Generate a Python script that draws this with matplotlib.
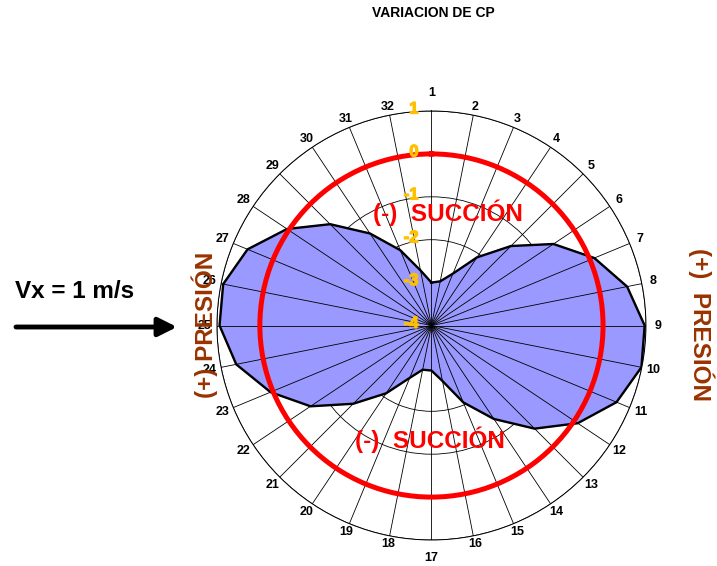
import numpy as np
import matplotlib.pyplot as plt
import matplotlib.patheffects as pe
from matplotlib import transforms

plt.rcParams['font.family'] = ['Liberation Sans', 'DejaVu Sans']

# Cp per point around the cylinder
points = [str(i) for i in range(1, 33)]
cp = [-3.0, -2.95, -2.69, -2.09, -1.38, -0.58, 0.11, 0.65, 0.97, 0.99,
      0.67, 0.10, -0.60, -1.38, -2.06, -2.68, -2.95, -2.95, -2.68, -2.10,
      -1.42, -0.61, 0.06, 0.64, 0.94, 0.95, 0.64, 0.05, -0.66, -1.42,
      -2.10, -2.69]
cp_zero = 0.0
r_ticks = [-4, -3, -2, -1, 0, 1]

fig = plt.figure(figsize=(7.17, 5.66), dpi=100)
ax = fig.add_axes([0.3026, 0.0459, 0.5983, 0.7580], projection='polar')
ax.set_theta_zero_location('N')
ax.set_theta_direction(-1)

theta = np.linspace(0, 2 * np.pi, len(points), endpoint=False)
tc = np.append(theta, theta[0])

ax.fill(tc, cp + cp[:1], color='#9999FF', zorder=1)
ax.plot(tc, cp + cp[:1], color='black', lw=1.7, zorder=2)
# red reference circle at Cp = 0
ax.axhline(cp_zero, color='red', lw=3.6, zorder=5)

ax.set_ylim(-4, 1)
ax.set_yticks(r_ticks)
ax.set_yticklabels([])
ax.set_xticks(theta)
ax.set_xticklabels([])
ax.xaxis.grid(True, color='black', lw=0.6)
ax.yaxis.grid(True, color='black', lw=0.6)
ax.xaxis.set_zorder(3)
ax.yaxis.set_zorder(0.5)
ax.spines['polar'].set_color('black')
ax.spines['polar'].set_linewidth(0.7)
ax.patch.set_facecolor('white')

# point labels just outside the outer ring
for t, name in zip(theta, points):
    d = 18 if abs(np.cos(t)) > 0.99 else 8 + 4 * abs(np.sin(t))
    tr = transforms.offset_copy(ax.transData, fig=fig, x=d * np.sin(t),
                                y=d * np.cos(t), units='dots')
    ax.text(t, r_ticks[-1], name, transform=tr, ha='center', va='center',
            fontsize=9, fontweight='bold', clip_on=False)

lab_tr = transforms.offset_copy(ax.transData, fig=fig, x=-13, y=2, units='dots')
for v in r_ticks:
    ax.text(0, v, str(v), transform=lab_tr, ha='right', va='center',
            color='#FFC000', fontsize=12, fontweight='bold', zorder=6,
            path_effects=[pe.withStroke(linewidth=0.9, foreground='#FFC000')])

fig.text(433 / 717, 1 - 13 / 566, 'VARIACION DE CP', ha='center', va='center',
         fontsize=10, fontweight='bold')
fig.text(448 / 717, 1 - 213 / 566, '(-)  SUCCIÓN', ha='center', va='center',
         color='red', fontsize=17.5, fontweight='bold', zorder=10)
fig.text(430 / 717, 1 - 440 / 566, '(-)  SUCCIÓN', ha='center', va='center',
         color='red', fontsize=17.5, fontweight='bold', zorder=10)
fig.text(205 / 717, 1 - 325 / 566, '(+) PRESIÓN', ha='center', va='center',
         rotation=90, color='#993300', fontsize=17.5, fontweight='bold', zorder=10)
fig.text(701 / 717, 1 - 325 / 566, '(+)  PRESIÓN', ha='center', va='center',
         rotation=-90, color='#993300', fontsize=17.5, fontweight='bold', zorder=10)
fig.text(15 / 717, 1 - 291 / 566, 'Vx = 1 m/s', ha='left', va='center',
         fontsize=17.5, fontweight='bold')

plt.annotate('', xy=(177 / 717, 1 - 327 / 566), xytext=(16 / 717, 1 - 327 / 566),
             xycoords='figure fraction', textcoords='figure fraction',
             arrowprops=dict(arrowstyle='-|>', lw=3.5, color='black',
                             mutation_scale=28, shrinkA=0, shrinkB=0))

fig.savefig('out.png', dpi=100)
